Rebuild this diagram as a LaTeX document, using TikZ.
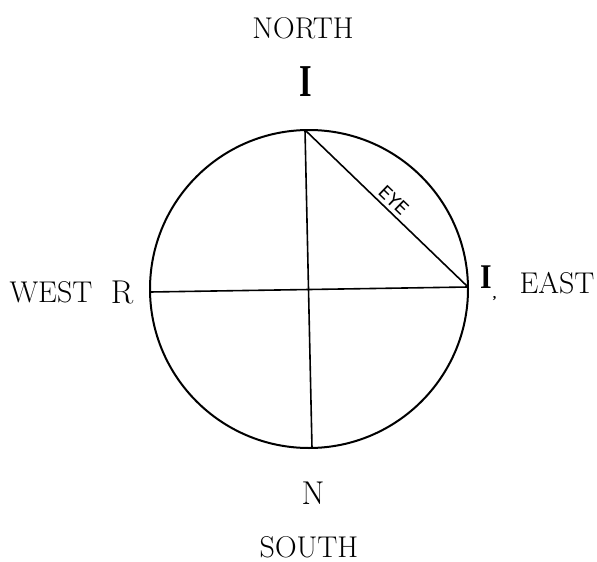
\documentclass[tikz,border=0pt]{standalone}
\usepackage{fontspec}
\newfontfamily\eyefont{DejaVu Sans}
\newfontfamily\ifont{Liberation Serif}
\usepackage{tikz}
\begin{document}
\begin{tikzpicture}[x=1pt, y=-1pt,
    compass/.style={inner sep=0pt, font=\fontsize{30}{30}\selectfont},
    letter/.style={inner sep=0pt, font=\fontsize{33}{33}\selectfont},
    bigi/.style={inner sep=0pt, font=\fontsize{38}{38}\selectfont\ifont\bfseries}]
\useasboundingbox (0,0) rectangle (597,562);
% the circle and its points
\coordinate (c) at (309,289);
\coordinate (top) at (305,130);
\coordinate (bot) at (312,448);
\coordinate (lft) at (150,292);
\coordinate (rgt) at (468,287);
\draw[line width=2pt] (c) circle[radius=159pt];
\draw[line width=1.6pt] (top) -- (bot);
\draw[line width=1.6pt] (lft) -- (rgt);
\draw[line width=1.6pt] (top) -- node[sloped, above, inner sep=4pt,
    font=\fontsize{18}{18}\selectfont\eyefont] {EYE} (rgt);
% labels
\node[compass] (north) at (303,28) {NORTH};
\node[compass] (south) at (309,547) {SOUTH};
\node[compass] (west) at (51,292) {WEST};
\node[compass] (east) at (557,283) {EAST};
\node[bigi] (itop) at (306,82) {\scalebox{0.85}[1.2]{I}};
\node[bigi, font=\fontsize{33}{33}\selectfont\ifont\bfseries, anchor=west] (irgt) at (480,283)
    {\scalebox{0.9}[1.05]{I}\kern1pt\raisebox{-10pt}{\fontsize{14}{14}\selectfont,}};
\node[letter] (rlft) at (122,292) {R};
\node[letter] (nbot) at (313,493) {N};
\end{tikzpicture}
\end{document}
